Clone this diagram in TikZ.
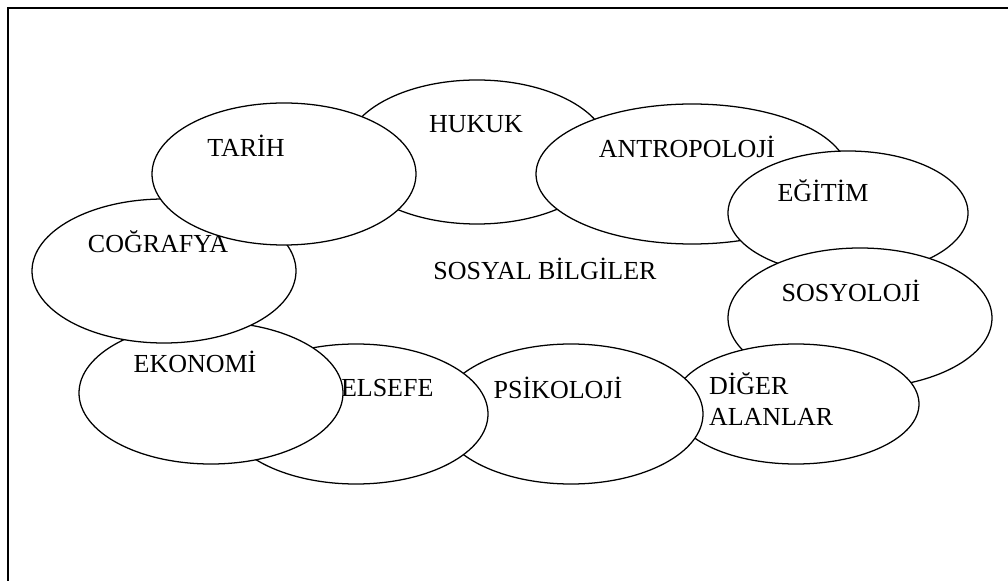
\documentclass[tikz,border=0pt]{standalone}
\usepackage{fontspec}
\setmainfont{Liberation Serif}
\usetikzlibrary{shapes.geometric}
\tikzset{
  blob/.style 2 args={draw=black, fill=white, ellipse, line width=0.95pt,
    inner sep=0pt, outer sep=0pt, minimum width=#1*1.5pt, minimum height=#2*1.5pt},
  lbl/.style={inner sep=0pt, outer sep=0pt, anchor=base, text=black,
    font=\fontsize{19.5}{23}\selectfont},
  lblw/.style={lbl, anchor=base west},
  frame/.style={draw=black, line width=1.2pt}
}
\begin{document}
\begin{tikzpicture}[x=0.75pt, y=-0.75pt]
\useasboundingbox (0,0) rectangle (1008,581);
\fill[white] (0,0) rectangle (1008,581);
\clip (0,0) rectangle (1008,581);
\draw[frame] (8,8) rectangle (1020,595);

\node[blob={132}{72}] (hukuk) at (477,152) {};
\node[lbl] (t-hukuk) at (476,133) {HUKUK};

\node[blob={156}{70}] (antropoloji) at (692,174) {};
\node[lbl] (t-antropoloji) at (687,158) {ANTROPOLOJİ};

\node[blob={120}{62}] (egitim) at (848,213) {};
\node[lbl] (t-egitim) at (823,202) {EĞİTİM};

\node[blob={132}{70}] (sosyoloji) at (860,318) {};
\node[lbl] (t-sosyoloji) at (851,301) {SOSYOLOJİ};

\node[blob={123}{60}] (diger) at (796,404) {};
\node[lblw] (t-diger) at (709,394) {DİĞER};
\node[lblw] (t-alanlar) at (709,426) {ALANLAR};

\node[blob={132}{70}] (psikoloji) at (571,414) {};
\node[lbl] (t-psikoloji) at (558,398) {PSİKOLOJİ};

\node[blob={132}{70}] (felsefe) at (356,414) {};
\node[lbl] (t-felsefe) at (380,397) {FELSEFE};

\node[blob={132}{71}] (ekonomi) at (211,393) {};
\node[lbl] (t-ekonomi) at (195,373) {EKONOMİ};

\node[blob={132}{72}] (cografya) at (164,271) {};
\node[lbl] (t-cografya) at (158,253) {COĞRAFYA};

\node[blob={132}{71}] (tarih) at (284,174) {};
\node[lbl] (t-tarih) at (246,157) {TARİH};

\node[lbl] (sosyal) at (545,280) {SOSYAL BİLGİLER};
\end{tikzpicture}
\end{document}
